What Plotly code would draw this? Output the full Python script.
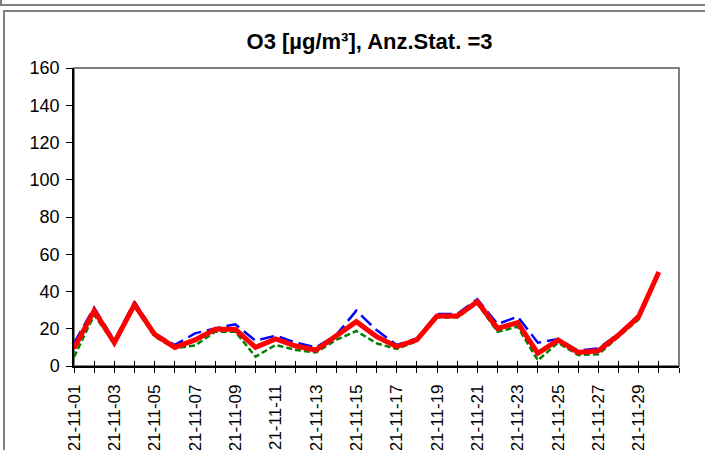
import plotly.graph_objects as go

dates = ["2021-11-%02d" % d for d in range(1, 31)]
label_dates = ["2021-11-%02d" % d for d in range(1, 31, 2)]
blue_vals = [12.2, 31.3, 13.5, 34.5, 17.5, 11.3, 17.5, 20.2, 22.4, 13.6,
             16.3, 12.5, 10.0, 16.6, 29.7, 19.3, 11.3, 14.8, 27.9, 27.9,
             35.8, 22.5, 26.5, 12.5, 14.5, 8.2, 9.5, 17.2, 27.4, 51.0]
red_vals = [9.5, 29.7, 12.5, 33.0, 17.0, 10.0, 14.0, 19.7, 19.7, 10.0,
            14.5, 10.7, 8.6, 16.0, 23.8, 15.8, 10.4, 14.0, 26.8, 26.8,
            34.5, 20.2, 23.3, 6.8, 14.0, 7.3, 8.2, 16.6, 26.5, 50.5]
green_vals = [4.8, 27.4, 12.0, 32.0, 15.8, 9.5, 11.0, 18.4, 18.4, 5.0,
              11.3, 8.6, 7.3, 14.0, 18.8, 12.2, 9.1, 13.4, 26.0, 26.0,
              33.6, 18.4, 21.1, 3.0, 12.5, 5.9, 6.3, 15.4, 25.0, 50.0]
y_ticks = [0, 20, 40, 60, 80, 100, 120, 140, 160]
title_text = "O3 [µg/m³], Anz.Stat. =3"

W, H = 705, 450
L, R, T, B = 74, 26, 68, 84
PW, PH = W - L - R, H - T - B


def px(x):
    return (x - L) / PW


def py(y):
    return (H - B - y) / PH


FONT = "Arial, Liberation Sans, sans-serif"
DAY = 86400000

fig = go.Figure()
fig.add_trace(go.Scatter(x=dates, y=blue_vals, mode="lines",
                         line=dict(color="#0000FF", width=2.5, dash="14px,6px"),
                         showlegend=False))
fig.add_trace(go.Scatter(x=dates, y=green_vals, mode="lines",
                         line=dict(color="#008000", width=2.5, dash="6px,3px"),
                         showlegend=False))
fig.add_trace(go.Scatter(x=dates, y=red_vals, mode="lines",
                         line=dict(color="#FF0000", width=5),
                         showlegend=False))

shapes = [
    dict(type="rect", xref="paper", yref="paper", x0=0, x1=1, y0=0, y1=1,
         line=dict(color="#808080", width=2), layer="below"),
    dict(type="rect", xref="paper", yref="paper", x0=px(4), x1=px(740),
         y0=py(480), y1=py(11), line=dict(color="#808080", width=2), layer="below"),
    dict(type="rect", xref="paper", yref="paper", x0=px(1), x1=px(740),
         y0=py(5), y1=py(-30), line=dict(color="#808080", width=2), layer="below"),
]

fig.update_layout(
    width=W, height=H,
    margin=dict(l=L, r=R, t=T, b=B, pad=0, autoexpand=False),
    paper_bgcolor="white", plot_bgcolor="white",
    font=dict(family=FONT, size=18, color="black"),
    title=dict(text="<b>" + title_text + "</b>", x=369.5 / W, xref="container",
               xanchor="center", y=1 - 41 / H, yref="container", yanchor="middle",
               font=dict(family=FONT, size=22, color="black")),
    shapes=shapes,
    xaxis=dict(type="date", range=["2021-11-01", "2021-12-01"], automargin=False,
               tickvals=label_dates, tickformat="%y-%m-%d",
               tickangle=-90, ticks="outside", ticklen=5, tickcolor="black",
               tickwidth=1, showgrid=False, zeroline=False, ticklabelstandoff=5,
               showline=True, linecolor="black", linewidth=1.5,
               minor=dict(dtick=DAY, tick0="2021-11-01", ticks="outside",
                          ticklen=5, tickcolor="black", tickwidth=1, showgrid=False),
               tickfont=dict(family=FONT, size=17, color="black")),
    xaxis2=dict(type="date", range=["2021-11-01", "2021-12-01"], overlaying="x",
                anchor="y", side="bottom", tick0="2021-11-01", dtick=DAY,
                ticks="inside", ticklen=5, tickcolor="black", tickwidth=1,
                showticklabels=False, showgrid=False, zeroline=False,
                showline=False, automargin=False),
    yaxis=dict(range=[0, 160], tickvals=y_ticks, ticks="outside", ticklen=6,
               automargin=False,
               tickcolor="black", tickwidth=1, showgrid=False, zeroline=False,
               showline=True, linecolor="black", linewidth=1.5, ticklabelstandoff=3,
               tickfont=dict(family=FONT, size=18, color="black")),
)
fig.add_trace(go.Scatter(x=[], y=[], xaxis="x2", showlegend=False))

fig.write_html("out.html")
